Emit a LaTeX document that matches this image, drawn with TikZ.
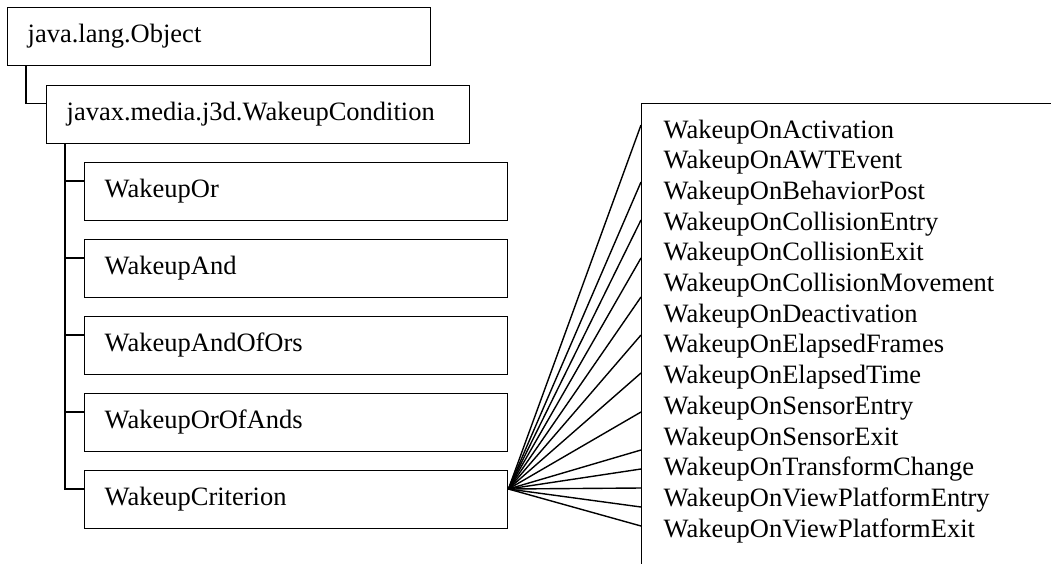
\documentclass[tikz,border=0pt]{standalone}
\usepackage{fontspec}
\setmainfont{Liberation Serif}
\begin{document}
\begin{tikzpicture}[x=1pt,y=-1pt,line width=1.4pt,
  txtfont/.style={font=\fontsize{26.5}{30.6}\selectfont},
  cls/.style={draw, rectangle, anchor=north west, minimum height=58pt,
    text width=383pt, inner xsep=20pt, inner ysep=0pt, align=left,
    text height=18pt, text depth=6pt, txtfont},
  evtxt/.style={anchor=base west, inner sep=0pt, txtfont},
  conn/.style={draw, line width=1.4pt}]
\useasboundingbox (0,0) rectangle (1051,563);
\node[cls] (obj)  at (7,7)     {java.lang.Object};
\node[cls] (cond) at (46,84.5) {javax.media.j3d.WakeupCondition};
\node[cls] (wor)  at (84,162)  {WakeupOr};
\node[cls] (wand) at (84,239)  {WakeupAnd};
\node[cls] (waoo) at (84,316)  {WakeupAndOfOrs};
\node[cls] (wooa) at (84,393)  {WakeupOrOfAnds};
\node[cls] (crit) at (84,470)  {WakeupCriterion};
\begin{scope}
  \clip (0,0) rectangle (1051,563);
  \node[draw, rectangle, anchor=north west, minimum width=600pt,
        minimum height=600pt, inner sep=0pt] (evt) at (641,103) {};
\end{scope}
% connectors
\coordinate (t1) at ([xshift=19pt]obj.south west);
\coordinate (c1) at ([yshift=-19pt]cond.north west);
\path[conn] (t1) |- (c1);
\coordinate (t2) at ([xshift=19pt]cond.south west);
\foreach \n in {wor,wand,waoo,wooa}{
  \coordinate (b-\n) at ([yshift=-19pt]\n.north west);
  \path[conn] (t2 |- b-\n) -- (b-\n);
}
\coordinate (b-crit) at ([yshift=-19pt]crit.north west);
\path[conn] (t2) |- (b-crit);
% fan
\coordinate (fan) at ([yshift=-19pt]crit.north east);
\foreach \y in {125,182,220,258,297,335,373,412,450,469,488,507,526}{
  \path[conn] (fan) -- (evt.west |- 0,\y);
}
% event list
\foreach \t [count=\i] in {WakeupOnActivation,WakeupOnAWTEvent,WakeupOnBehaviorPost,
  WakeupOnCollisionEntry,WakeupOnCollisionExit,WakeupOnCollisionMovement,
  WakeupOnDeactivation,WakeupOnElapsedFrames,WakeupOnElapsedTime,
  WakeupOnSensorEntry,WakeupOnSensorExit,WakeupOnTransformChange,
  WakeupOnViewPlatformEntry,WakeupOnViewPlatformExit}{
  \node[evtxt] (e\i) at (663,{138+30.7*(\i-1)}) {\t};
}
\end{tikzpicture}
\end{document}
